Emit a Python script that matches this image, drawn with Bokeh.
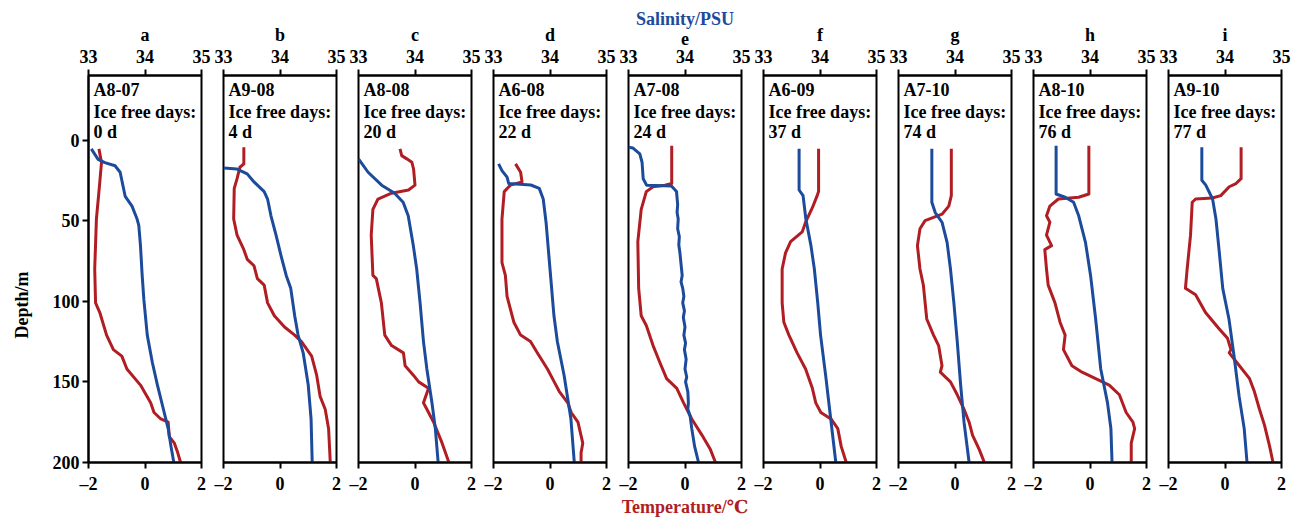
from bokeh.plotting import figure
from bokeh.models import Range1d, LinearAxis, FixedTicker, Label
from bokeh.layouts import row
from bokeh.embed import file_html
from bokeh.resources import INLINE

# ---------------- data ----------------
panel_letters = ["a", "b", "c", "d", "e", "f", "g", "h", "i"]
stations = ["A8-07", "A9-08", "A8-08", "A6-08", "A7-08", "A6-09", "A7-10", "A8-10", "A9-10"]
ice_free_days = [0, 4, 20, 22, 24, 37, 74, 76, 77]
temp_ticks = [-2, 0, 2]
temp_tick_labels = ["\u20132", "0", "2"]
sal_ticks = [33, 34, 35]
depth_ticks = [0, 50, 100, 150, 200]

a_t_depth = [5.5, 14, 30, 49, 80, 101, 107, 121, 130, 134, 142, 152, 163, 169, 173, 175, 184, 188, 194, 200]
a_t = [-1.63, -1.54, -1.62, -1.72, -1.78, -1.75, -1.60, -1.36, -1.12, -0.82, -0.64, -0.16, 0.20, 0.32, 0.56, 0.82, 0.86, 1.04, 1.16, 1.26]
a_s_depth = [5.5, 12, 14, 16, 20, 35, 41, 49, 53, 65.5, 84, 99, 121, 138, 152, 169, 179, 190, 200]
a_s = [33.05, 33.17, 33.29, 33.47, 33.56, 33.65, 33.77, 33.86, 33.89, 33.92, 33.95, 33.98, 34.04, 34.13, 34.22, 34.34, 34.41, 34.46, 34.51]

b_t_depth = [4.5, 14.8, 16.9, 24, 30, 49, 59, 68, 74, 78, 86, 90, 101, 109, 116, 121, 125, 134, 146, 159, 167, 179, 200]
b_t = [-1.28, -1.28, -1.42, -1.52, -1.62, -1.64, -1.52, -1.28, -1.16, -0.92, -0.80, -0.56, -0.44, -0.20, 0.16, 0.52, 0.76, 1.12, 1.30, 1.42, 1.60, 1.72, 1.78]
b_s_depth = [17.3, 18, 21, 26, 32, 36.6, 47, 59, 72, 84, 92, 109, 121, 132, 152, 173, 200]
b_s = [33.0, 33.24, 33.42, 33.54, 33.72, 33.78, 33.84, 33.93, 34.02, 34.11, 34.19, 34.26, 34.32, 34.41, 34.50, 34.55, 34.57]

c_t_depth = [5.5, 9.7, 11.7, 13.8, 18, 28, 31, 33, 36.6, 43, 59, 84, 86, 101, 121, 127.5, 132, 140, 146, 150, 154, 163, 167, 175, 188, 200]
c_t = [-0.53, -0.47, -0.29, -0.11, -0.05, 0.0, -0.23, -0.83, -1.31, -1.49, -1.55, -1.49, -1.37, -1.19, -1.07, -0.83, -0.41, -0.35, -0.05, 0.13, 0.48, 0.30, 0.42, 0.66, 0.96, 1.20]
c_s_depth = [11.7, 20, 28, 33, 38.6, 47, 65.5, 80, 101, 125, 142, 163, 179, 200]
c_s = [33.0, 33.17, 33.41, 33.64, 33.79, 33.88, 33.97, 34.03, 34.09, 34.15, 34.21, 34.30, 34.36, 34.41]

d_t_depth = [14.8, 20, 26, 28, 32, 49, 76, 84, 97, 113, 121, 125, 132, 142, 150, 156, 163, 169, 175, 188, 194, 200]
d_t = [-1.22, -1.04, -0.99, -1.40, -1.62, -1.70, -1.70, -1.58, -1.52, -1.28, -1.04, -0.69, -0.45, -0.09, 0.15, 0.33, 0.63, 0.75, 0.99, 1.16, 1.10, 1.10]
d_s_depth = [14.8, 19, 23, 27, 27.9, 30, 36.6, 51, 80, 109, 125, 146, 173, 200]
d_s = [33.09, 33.15, 33.24, 33.27, 33.66, 33.81, 33.88, 33.93, 34.00, 34.07, 34.13, 34.25, 34.37, 34.43]

e_t_depth = [3.5, 27, 28, 29, 32, 43, 63, 92, 109, 115, 127.5, 138, 148, 154, 163, 173, 183, 192, 200]
e_t = [-0.47, -0.47, -0.71, -1.13, -1.37, -1.55, -1.67, -1.64, -1.55, -1.37, -1.13, -0.89, -0.65, -0.29, -0.05, 0.24, 0.60, 0.90, 1.08]
e_s_depth = [4.5, 5, 8.6, 13.8, 24, 28, 28.5, 32, 40, 45, 49, 55, 60, 65, 70, 77, 84, 88, 92, 97, 101, 106, 110, 116, 121, 126, 130, 136, 142, 147, 150, 156, 163, 167, 171, 179, 190, 200]
e_s = [33.0, 33.08, 33.20, 33.24, 33.26, 33.32, 33.76, 33.85, 33.87, 33.86, 33.88, 33.87, 33.90, 33.89, 33.91, 33.93, 33.95, 33.93, 33.96, 33.98, 33.96, 33.99, 33.97, 34.00, 33.98, 34.01, 33.99, 34.02, 34.00, 34.03, 34.01, 34.05, 34.06, 34.05, 34.09, 34.12, 34.17, 34.24]

f_t_depth = [5.5, 32, 34, 42, 51, 57, 63, 70, 80, 101, 113, 121, 132, 142, 154, 163, 169, 173, 179, 190, 200]
f_t = [-0.05, -0.05, -0.09, -0.27, -0.51, -0.63, -1.04, -1.22, -1.34, -1.34, -1.28, -1.10, -0.81, -0.51, -0.27, -0.15, 0.03, 0.39, 0.63, 0.75, 0.93]
f_s_depth = [5.5, 31, 34.5, 49, 65.5, 80, 101, 121, 146, 173, 200]
f_s = [33.63, 33.63, 33.70, 33.75, 33.84, 33.90, 33.96, 34.01, 34.10, 34.19, 34.28]

g_t_depth = [5.5, 34.5, 41, 46, 50, 55, 65.5, 80, 90, 111, 121, 127.5, 140, 144, 150, 158, 167, 175, 183, 192, 200]
g_t = [-0.13, -0.13, -0.22, -0.46, -1.06, -1.24, -1.33, -1.24, -1.12, -1.00, -0.76, -0.58, -0.46, -0.52, -0.16, 0.08, 0.32, 0.50, 0.62, 0.86, 1.04]
g_s_depth = [5.5, 38.6, 45, 51, 63.5, 80, 101, 125, 152, 175, 200]
g_s = [33.59, 33.59, 33.65, 33.77, 33.86, 33.92, 33.98, 34.04, 34.10, 34.16, 34.25]

h_t_depth = [3.5, 33.5, 35.5, 36.6, 41, 47, 51, 59, 65.5, 68, 80, 90, 101, 113, 121, 130, 140, 144, 148, 152, 158, 169, 175, 179, 188, 200]
h_t = [-0.04, -0.04, -0.40, -1.12, -1.42, -1.54, -1.42, -1.54, -1.36, -1.60, -1.54, -1.48, -1.24, -1.06, -0.88, -0.94, -0.64, -0.28, 0.20, 0.68, 1.04, 1.28, 1.52, 1.58, 1.46, 1.46]
h_s_depth = [3.5, 33.5, 35.5, 38.6, 47, 63.5, 84, 111, 142, 163, 179, 200]
h_s = [33.40, 33.40, 33.56, 33.71, 33.80, 33.92, 34.01, 34.10, 34.19, 34.31, 34.37, 34.39]

i_t_depth = [4.5, 24, 27, 29, 34.5, 36, 36.6, 38.6, 59, 80, 92, 96, 107, 117, 123, 130, 132, 140, 148, 156, 167, 177, 190, 200]
i_t = [0.57, 0.57, 0.39, 0.15, -0.15, -0.45, -1.04, -1.16, -1.22, -1.34, -1.40, -1.04, -0.69, -0.21, 0.09, 0.21, 0.15, 0.51, 0.87, 1.04, 1.22, 1.40, 1.58, 1.70]
i_s_depth = [4.5, 25, 28, 36.6, 49, 70, 92, 111, 134, 159, 179, 200]
i_s = [33.59, 33.59, 33.66, 33.78, 33.84, 33.90, 33.96, 34.07, 34.16, 34.25, 34.34, 34.39]

temp_profiles = [(a_t, a_t_depth), (b_t, b_t_depth), (c_t, c_t_depth), (d_t, d_t_depth), (e_t, e_t_depth),
                 (f_t, f_t_depth), (g_t, g_t_depth), (h_t, h_t_depth), (i_t, i_t_depth)]
sal_profiles = [(a_s, a_s_depth), (b_s, b_s_depth), (c_s, c_s_depth), (d_s, d_s_depth), (e_s, e_s_depth),
                (f_s, f_s_depth), (g_s, g_s_depth), (h_s, h_s_depth), (i_s, i_s_depth)]

# ---------------- style ----------------
RED = "#B01E24"
BLUE = "#1D4B9B"
FONT = "'Liberation Serif', 'Times New Roman', 'DejaVu Serif', serif"
FS = "18px"


def style_axis(ax):
    ax.axis_line_width = 2
    ax.axis_line_color = "black"
    ax.major_tick_line_width = 2
    ax.major_tick_line_color = "black"
    ax.major_tick_out = 6
    ax.major_tick_in = 0
    ax.minor_tick_out = 0
    ax.minor_tick_in = 0
    ax.major_label_text_font = FONT
    ax.major_label_text_font_size = FS
    ax.major_label_text_font_style = "bold"
    ax.major_label_text_color = "black"
    ax.major_label_standoff = 1
    ax.axis_label_text_font = FONT
    ax.axis_label_text_font_size = FS
    ax.axis_label_text_font_style = "bold"
    ax.axis_label_text_color = "black"
    ax.axis_label_standoff = 0


figs = []
for k in range(9):
    first = k == 0
    middle = k == 4
    p = figure(
        frame_width=113, frame_height=387,
        x_range=Range1d(-2, 2), y_range=Range1d(200, -40),
        output_backend="svg", toolbar_location=None, tools="",
        x_axis_location=None, y_axis_location=None,
        min_border_left=88 if first else 11, min_border_right=11,
        min_border_top=75, min_border_bottom=57,
        title="Salinity/PSU" if middle else None,
        background_fill_color="white", border_fill_color="white",
    )
    p.xgrid.visible = False
    p.ygrid.visible = False
    p.extra_x_ranges = {"sal": Range1d(33, 35)}
    p.outline_line_color = "black"
    p.outline_line_width = 2
    p.outline_line_alpha = 1.0

    if middle:
        p.title.align = "center"
        p.title.text_color = BLUE
        p.title.text_font = FONT
        p.title.text_font_size = FS
        p.title.text_font_style = "bold"
        p.title.standoff = 0

    bottom = LinearAxis(ticker=FixedTicker(ticks=temp_ticks),
                        major_label_overrides={t: s for t, s in zip(temp_ticks, temp_tick_labels)})
    style_axis(bottom)
    bottom.major_label_standoff = 5
    if middle:
        bottom.axis_label = "Temperature/\u2103"
        bottom.axis_label_text_color = RED
    p.add_layout(bottom, "below")

    top = LinearAxis(x_range_name="sal", ticker=FixedTicker(ticks=sal_ticks), axis_label=panel_letters[k])
    style_axis(top)
    top.major_label_standoff = 7
    top.axis_label_standoff = 2
    p.add_layout(top, "above")

    if first:
        # trailing no-break spaces push the rotated title down, as in the original
        left = LinearAxis(ticker=FixedTicker(ticks=depth_ticks), axis_label="Depth/m" + "\u00a0" * 16)
        style_axis(left)
        left.major_label_standoff = 3
        left.axis_label_standoff = 18
        p.add_layout(left, "left")

    t_vals, t_dep = temp_profiles[k]
    s_vals, s_dep = sal_profiles[k]
    p.line(x=t_vals, y=t_dep, line_color=RED, line_width=3, line_join="round")
    p.line(x=s_vals, y=s_dep, line_color=BLUE, line_width=3, line_join="round", x_range_name="sal")

    lines = [stations[k], "Ice free days:", f"{ice_free_days[k]} d"]
    ys = [-31.3, -17.6, -5.2]
    for txt, yy in zip(lines, ys):
        p.add_layout(Label(x=-2, y=yy, x_offset=5, text=txt, text_font=FONT, text_font_size=FS,
                           text_font_style="bold", text_color="black", text_baseline="middle"))
    figs.append(p)

layout = row(*figs)
open("out.html", "w").write(file_html(layout, INLINE))
